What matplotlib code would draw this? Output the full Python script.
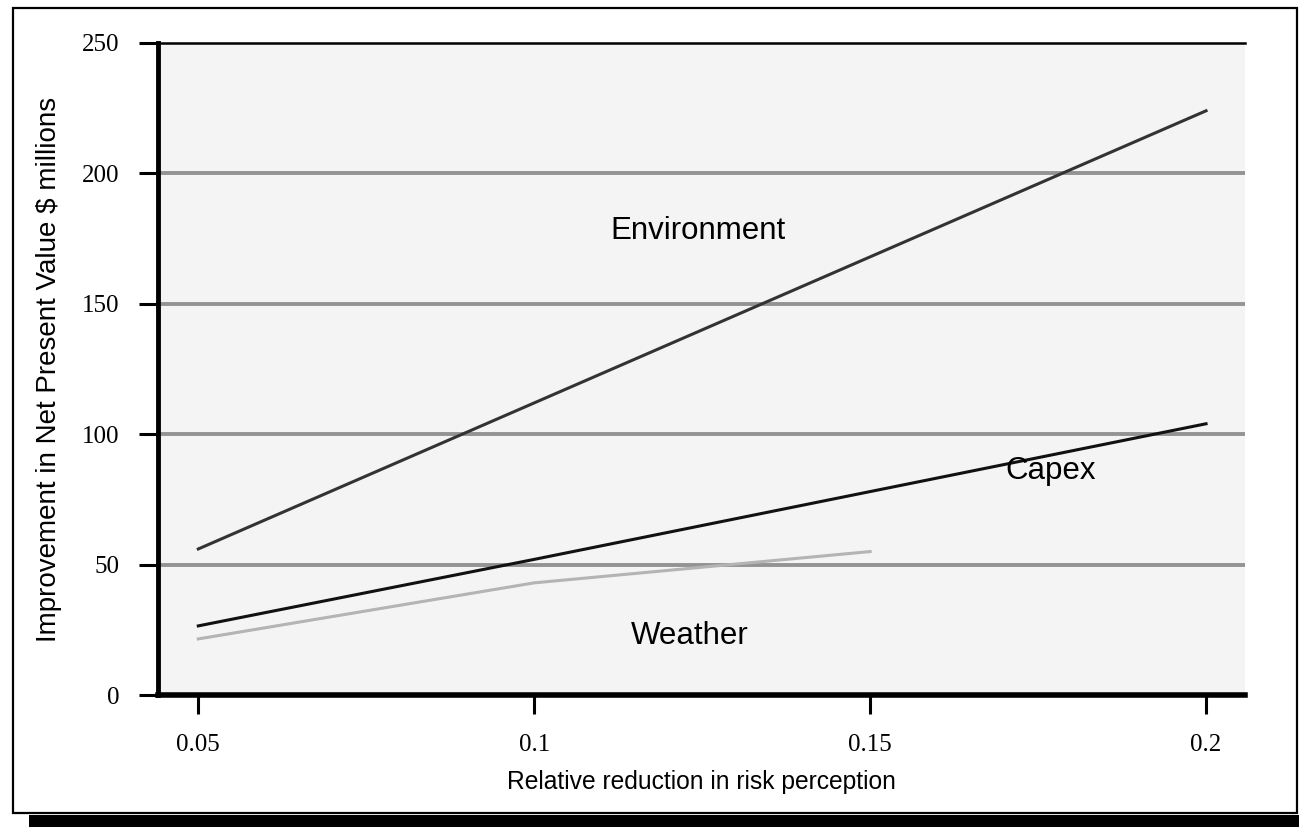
import matplotlib
matplotlib.use("Agg")
import matplotlib.pyplot as plt
from matplotlib.patches import Rectangle

x_env = [0.05, 0.10, 0.15, 0.20]
environment = [56, 112, 168, 224]
x_capex = [0.05, 0.10, 0.15, 0.20]
capex = [26.5, 52, 78, 104]
x_weather = [0.05, 0.10, 0.15]
weather = [21.5, 43, 55]
xticks = [0.05, 0.1, 0.15, 0.2]
xticklabels = ["0.05", "0.1", "0.15", "0.2"]
yticks = [0, 50, 100, 150, 200, 250]

fig = plt.figure(figsize=(12.99, 8.27), dpi=100)
fig.patch.set_facecolor("white")

# figure border with shadow
fig.add_artist(Rectangle((29/1299, 0), 1 - 29/1299, 12/827, transform=fig.transFigure,
                         facecolor="black", edgecolor="none", zorder=0))
fig.add_artist(Rectangle((13/1299, 14/827), (1297-13)/1299, (819-14)/827,
                         transform=fig.transFigure, facecolor="none",
                         edgecolor="black", linewidth=1.6, zorder=0))

ax = fig.add_axes([158/1299, 1 - 695/827, (1245-158)/1299, (695-43)/827])
ax.set_facecolor("#f4f4f4")

for yv in [50, 100, 150, 200]:
    ax.axhline(yv, color="#939393", linewidth=2.8, zorder=1)

ax.plot(x_env, environment, color="#333333", linewidth=2.2, zorder=3)
ax.plot(x_capex, capex, color="#111111", linewidth=2.2, zorder=3)
ax.plot(x_weather, weather, color="#b4b4b4", linewidth=2.2, zorder=3)

ax.text(0.1244, 178, "Environment", fontsize=22.5, family="Liberation Sans",
        ha="center", va="center")
ax.text(0.1768, 86, "Capex", fontsize=22.5, family="Liberation Sans",
        ha="center", va="center")
ax.text(0.1232, 22.5, "Weather", fontsize=22.5, family="Liberation Sans",
        ha="center", va="center")

ax.set_xlim(0.044, 0.2058)
ax.set_ylim(0, 250)
ax.set_xticks(xticks)
ax.set_xticklabels(xticklabels)
ax.set_yticks(yticks)
ax.set_yticklabels([str(v) for v in yticks])
for lab in ax.get_xticklabels() + ax.get_yticklabels():
    lab.set_family("Liberation Serif")
    lab.set_fontsize(18)

ax.tick_params(axis="x", direction="out", length=14, width=2.2, pad=14)
ax.tick_params(axis="y", direction="out", length=14, width=2.2, pad=14)

ax.spines["right"].set_visible(False)
ax.spines["top"].set_color("black")
ax.spines["top"].set_linewidth(1.8)
ax.spines["left"].set_linewidth(3.5)
ax.spines["bottom"].set_linewidth(4)

ax.set_xlabel("Relative reduction in risk perception", fontsize=17.7,
              family="Liberation Sans", labelpad=10)
ax.set_ylabel("Improvement in Net Present Value $ millions", fontsize=20,
              family="Liberation Sans", labelpad=14)

fig.savefig("out.png", dpi=100)
